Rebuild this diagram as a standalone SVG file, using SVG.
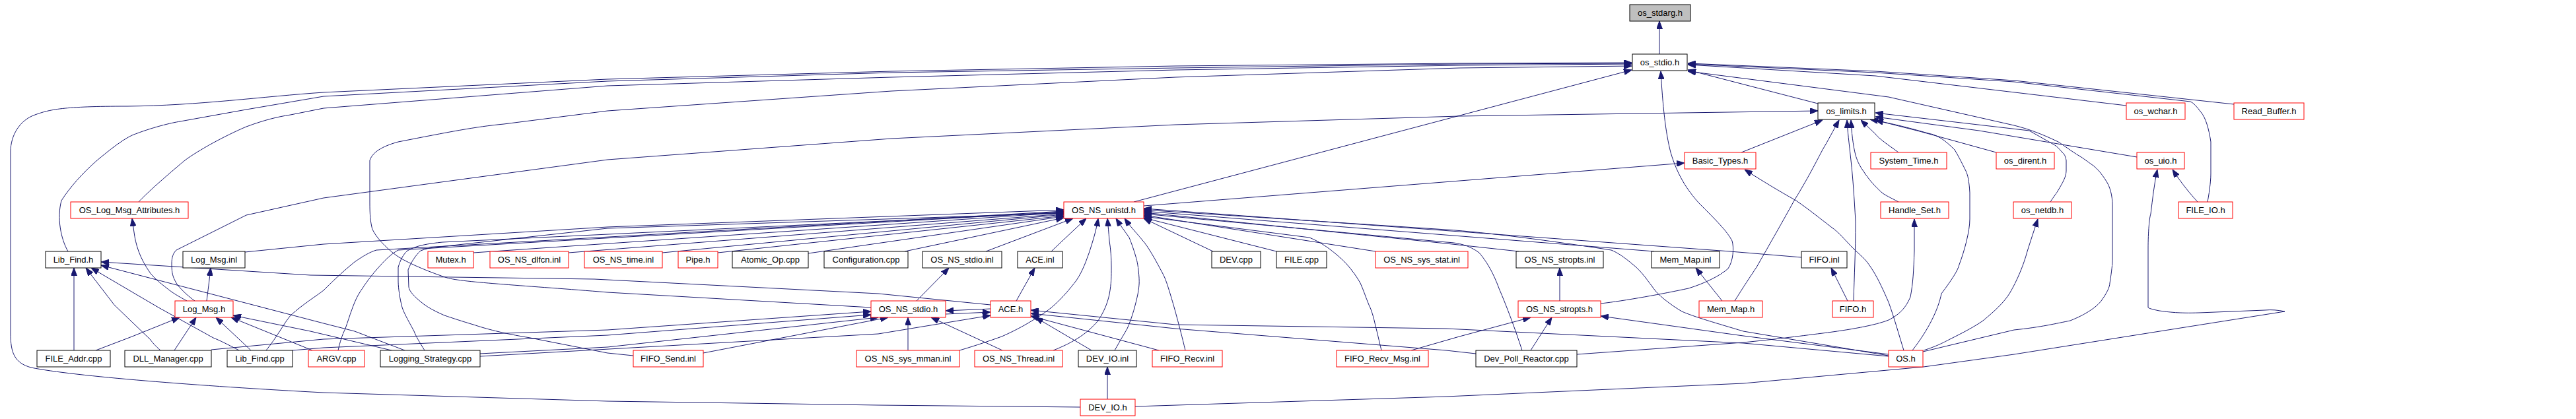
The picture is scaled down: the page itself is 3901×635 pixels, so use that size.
<svg xmlns="http://www.w3.org/2000/svg" width="3901" height="635" viewBox="0 0 3901 635">
<style>
.e{fill:none;stroke:#191970;stroke-width:1;marker-end:url(#a)}
.r{fill:#fff;stroke:#ff0000;stroke-width:1}
.b{fill:#fff;stroke:#000;stroke-width:1}
.g{fill:#bfbfbf;stroke:#000;stroke-width:1}
text{font-family:"Liberation Sans",Arial,sans-serif;font-size:13px;text-anchor:middle;fill:#000}
</style>
<defs>
<marker id="a" viewBox="0 0 12 9" refX="12" refY="4.5" markerWidth="12" markerHeight="9" markerUnits="userSpaceOnUse" orient="auto"><path d="M0,0 L12,4.5 L0,9 z" fill="#191970" stroke="#191970"/></marker>
</defs>
<rect width="3901" height="635" fill="#fff"/>
<g id="edges">
<path class="e" d="M2513,82 L2513,32"/>
<path class="e" d="M1636,617 L1330,614 L920,608 L490,595 C300,585 110,570 47,557 C22,550 16,535 16,505 L16,230 C16,205 30,182 53,174 C75,166 95,161 193,161 C300,160 400,146 490,140 L920,120 L1350,108 L1780,100 L2210,96 L2471,95"/>
<path class="e" d="M103,381 C92,362 86,330 93,304 C105,285 125,262 147,243 C165,228 185,212 200,205 C230,193 260,186 273,184 L373,166 L490,146 L920,123 L1350,110 L1780,103 L2210,97 L2471,96"/>
<path class="e" d="M210,306 C222,293 250,268 280,243 C300,228 340,206 373,192 C400,182 420,177 440,174 L490,164 L920,130 L1350,117 L1780,106 L2210,99 L2471,97"/>
<path class="e" d="M1319,466 L920,443 C800,433 700,428 677,421 C655,414 620,400 603,389 C585,377 565,355 563,344 C560,330 560,320 560,300 L560,243 C565,228 585,220 603,215 C680,200 720,192 763,188 L920,168 L1350,138 L1780,117 L2210,103 L2471,100"/>
<path class="e" d="M1717,306 L2471,106"/>
<path class="e" d="M295,456 C285,449 272,437 267,429 C262,420 260,415 260,400 C260,390 262,384 267,379 L373,326 L490,300 L920,242 L1350,210 L1780,189 L2210,176 L2753,168"/>
<path class="e" d="M1732,312 L2551,247"/>
<path class="e" d="M2424,460 C2460,456 2520,445 2557,437 C2580,430 2605,418 2617,407 C2625,395 2626,375 2623,365 C2615,350 2600,335 2573,308 C2555,288 2540,265 2530,231 C2522,200 2518,160 2515,108"/>
<path class="e" d="M2753,157 L2556,106"/>
<path class="e" d="M3220,160 L2840,115 L2556,98"/>
<path class="e" d="M3383,158 L3050,122 L2840,108 L2556,96"/>
<path class="e" d="M3343,306 C3347,285 3348,270 3348,263 L3348,215 C3345,195 3340,178 3333,170 C3327,162 3322,156 3317,154 L3050,124 L2840,110 L2556,97"/>
<path class="e" d="M2912,533 L3050,500 C3090,496 3115,490 3135,486 C3160,476 3175,465 3182,456 C3190,445 3195,435 3195,429 C3198,410 3199,400 3199,393 L3199,312 C3199,295 3195,283 3190,275 C3182,262 3175,255 3170,251 C3160,244 3155,240 3150,237 C3135,228 3125,220 3117,215 C3090,202 3070,195 3050,190 L2860,147 L2556,108"/>
<path class="e" d="M3105,306 C3110,298 3115,292 3117,288 C3123,278 3129,268 3129,259 L3129,243 C3128,237 3126,233 3123,231 C3118,225 3114,221 3110,219 L3073,198 L2840,171"/>
<path class="e" d="M3236,238 L2997,198 L2840,177"/>
<path class="e" d="M3023,231 L2907,199 L2840,182"/>
<path class="e" d="M2896,531 C2920,500 2935,470 2940,445 C2955,425 2965,410 2967,401 C2975,380 2983,350 2983,332 L2983,292 C2982,275 2980,265 2977,259 C2970,245 2965,235 2960,227 C2945,212 2935,205 2920,202 C2895,195 2870,188 2832,181"/>
<path class="e" d="M2637,231 L2760,182"/>
<path class="e" d="M2627,456 C2640,435 2650,420 2660,405 C2680,370 2700,335 2717,304 C2735,275 2748,250 2760,227 C2770,210 2775,200 2785,182"/>
<path class="e" d="M2807,456 C2808,420 2810,380 2810,336 C2808,300 2806,270 2803,243 C2800,215 2798,200 2797,182"/>
<path class="e" d="M2875,306 C2862,299 2855,296 2850,292 C2840,283 2830,272 2823,261 C2815,250 2812,242 2810,235 C2806,220 2804,200 2803,182"/>
<path class="e" d="M2875,231 C2860,220 2845,210 2840,203 L2818,182"/>
<path class="e" d="M3328,306 C3318,295 3305,280 3290,257"/>
<path class="e" d="M1719,616 L2190,601 L2640,581 L2913,556 L3050,537 L3460,472 C3450,470 3440,469 3430,470 L3330,474 C3300,475 3285,473 3270,471 C3260,469 3253,467 3253,466 L3253,378 C3253,350 3255,330 3257,324 C3260,300 3262,280 3267,257"/>
<path class="e" d="M2913,531 C2935,524 2945,518 2953,514 C2975,503 2990,495 3003,486 C3020,472 3035,458 3043,445 C3055,425 3065,400 3070,381 C3075,365 3080,350 3086,332"/>
<path class="e" d="M2883,531 C2875,505 2868,480 2860,458 C2850,435 2842,418 2833,405 C2825,392 2815,385 2807,377 C2795,365 2785,352 2773,344 C2755,330 2740,318 2720,304 C2695,290 2670,275 2642,257"/>
<path class="e" d="M2388,537 L2640,519 C2690,514 2720,510 2760,505 C2800,500 2840,493 2860,485 C2880,475 2888,462 2893,450 C2897,430 2898,410 2899,380 L2899,332"/>
<path class="e" d="M2608,456 L2568,406"/>
<path class="e" d="M2798,456 L2773,406"/>
<path class="e" d="M2362,456 L2362,406"/>
<path class="e" d="M2318,531 L2350,481"/>
<path class="e" d="M2137,531 L2210,510 L2318,481"/>
<path class="e" d="M2860,537 L2640,509 L2424,479"/>
<path class="e" d="M2860,539 L2640,502 C2600,490 2565,480 2547,472 C2530,462 2515,450 2507,441 C2495,425 2485,410 2473,401 C2460,390 2450,383 2440,379 C2350,365 2250,352 2190,348 L1732,318"/>
<path class="e" d="M2728,390 L2620,381 L1732,316"/>
<path class="e" d="M2505,381 L1732,320"/>
<path class="e" d="M2300,381 L2190,369 L1732,322"/>
<path class="e" d="M2305,531 C2295,500 2282,465 2270,437 C2260,410 2250,395 2240,383 C2225,372 2210,368 2190,367 L1732,324"/>
<path class="e" d="M2083,381 L1732,326"/>
<path class="e" d="M2092,531 C2088,515 2086,505 2083,494 C2080,480 2077,470 2073,462 C2068,450 2065,440 2060,429 C2055,420 2048,410 2040,401 C2032,392 2022,384 2013,377 C2003,370 1995,365 1983,360 L1732,328"/>
<path class="e" d="M1933,381 L1732,330"/>
<path class="e" d="M1837,381 L1732,331"/>
<path class="e" d="M1795,531 C1790,510 1786,495 1782,480 C1778,465 1775,455 1772,445 C1768,432 1765,422 1760,413 C1752,398 1745,385 1737,373 C1728,360 1715,348 1703,331"/>
<path class="e" d="M1688,531 C1697,515 1703,505 1707,498 C1715,480 1720,460 1723,446 C1726,430 1725,425 1725,421 C1724,405 1722,395 1720,389 C1716,375 1712,365 1710,360 C1703,350 1697,342 1690,331"/>
<path class="e" d="M1595,531 C1610,525 1620,520 1630,514 C1645,505 1655,495 1663,486 C1672,472 1677,460 1680,446 C1683,430 1683,418 1683,405 C1683,390 1682,378 1680,365 C1679,352 1678,342 1677,331"/>
<path class="e" d="M1453,531 C1480,523 1500,516 1517,510 C1535,502 1550,494 1563,486 C1575,479 1588,470 1597,462 C1610,450 1620,438 1630,425 C1640,410 1645,395 1650,381 C1655,365 1660,350 1663,331"/>
<path class="e" d="M1592,381 L1645,331"/>
<path class="e" d="M1493,381 L1625,331"/>
<path class="e" d="M1370,381 L1611,330"/>
<path class="e" d="M1224,384 L1611,328"/>
<path class="e" d="M1087,383 L1611,327"/>
<path class="e" d="M1003,383 L1611,325"/>
<path class="e" d="M861,383 L1611,324"/>
<path class="e" d="M717,383 L1611,322"/>
<path class="e" d="M371,382 L490,370 L920,344 L1611,318"/>
<path class="e" d="M403,531 C420,510 430,490 440,478 C460,460 480,448 490,440 C500,430 515,415 537,397 C550,388 560,382 570,379 L1611,320"/>
<path class="e" d="M512,531 C515,518 518,508 523,498 C530,478 535,460 543,446 C553,430 562,418 570,409 C582,395 592,385 603,379 L1611,321"/>
<path class="e" d="M643,531 C635,518 630,510 627,502 C618,485 610,472 608,462 C604,445 603,432 603,425 L603,405 C606,395 610,386 617,380 C630,372 650,369 670,367 L1611,322"/>
<path class="e" d="M959,539 L920,535 L803,512 C760,505 735,498 717,492 C700,487 685,482 673,478 C655,470 645,464 638,458 C628,450 620,442 619,435 L618,409 C622,398 630,386 637,380 C645,377 650,376 657,375 L920,346 L1611,323"/>
<path class="e" d="M112,531 L112,406"/>
<path class="e" d="M243,531 C235,524 230,518 227,514 L173,462 L130,406"/>
<path class="e" d="M362,531 C345,522 333,516 323,512 L240,466 L138,406"/>
<path class="e" d="M613,531 L537,502 L490,490 L153,402"/>
<path class="e" d="M1500,462 L1330,445 L900,423 L470,417 L153,397"/>
<path class="e" d="M313,456 C315,440 317,425 319,406"/>
<path class="e" d="M283,456 C270,449 260,443 253,437 C240,427 232,420 227,413 C220,403 214,392 210,381 C206,370 204,360 203,352 L200,331"/>
<path class="e" d="M145,531 L200,510 L272,481"/>
<path class="e" d="M264,531 L297,481"/>
<path class="e" d="M380,531 L327,481"/>
<path class="e" d="M473,531 L350,481"/>
<path class="e" d="M593,531 L470,502 L353,478"/>
<path class="e" d="M1388,456 L1437,406"/>
<path class="e" d="M1539,456 L1567,406"/>
<path class="e" d="M1375,531 L1375,481"/>
<path class="e" d="M1518,531 L1410,481"/>
<path class="e" d="M1500,468 L1432,471"/>
<path class="e" d="M1432,476 L1500,473"/>
<path class="e" d="M1653,531 L1568,481"/>
<path class="e" d="M1755,531 L1561,479"/>
<path class="e" d="M2860,540 L2640,520 L2190,498 L1780,492 L1561,470"/>
<path class="e" d="M2235,536 L2190,531 L1780,498 L1561,475"/>
<path class="e" d="M320,530 L490,514 L920,500 L1319,472"/>
<path class="e" d="M443,531 L490,527 L920,508 L1319,477"/>
<path class="e" d="M727,536 L920,526 L1330,481"/>
<path class="e" d="M1065,535 L1345,481"/>
<path class="e" d="M727,540 L1330,506 L1500,478"/>
<path class="e" d="M1677,605 L1677,556"/>
</g>
<g id="n_os_stdarg_h"><rect class="g" x="2468" y="7" width="92" height="25"/><text x="2514" y="24">os_stdarg.h</text></g>
<g id="n_os_stdio_h"><rect class="b" x="2472" y="82" width="83" height="25"/><text x="2513.5" y="99">os_stdio.h</text></g>
<g id="n_os_limits_h"><rect class="b" x="2753" y="156" width="86" height="25"/><text x="2796" y="173">os_limits.h</text></g>
<g id="n_os_wchar_h"><rect class="r" x="3220" y="156" width="89" height="25"/><text x="3264.5" y="173">os_wchar.h</text></g>
<g id="n_Read_Buffer_h"><rect class="r" x="3383" y="156" width="106" height="25"/><text x="3436" y="173">Read_Buffer.h</text></g>
<g id="n_Basic_Types_h"><rect class="r" x="2551" y="231" width="108" height="25"/><text x="2605" y="248">Basic_Types.h</text></g>
<g id="n_System_Time_h"><rect class="r" x="2833" y="231" width="115" height="25"/><text x="2890.5" y="248">System_Time.h</text></g>
<g id="n_os_dirent_h"><rect class="r" x="3023" y="231" width="88" height="25"/><text x="3067" y="248">os_dirent.h</text></g>
<g id="n_os_uio_h"><rect class="r" x="3236" y="231" width="72" height="25"/><text x="3272" y="248">os_uio.h</text></g>
<g id="n_OS_Log_Msg_Attributes_h"><rect class="r" x="107" y="306" width="178" height="25"/><text x="196" y="323">OS_Log_Msg_Attributes.h</text></g>
<g id="n_OS_NS_unistd_h"><rect class="r" x="1611" y="306" width="121" height="25"/><text x="1671.5" y="323">OS_NS_unistd.h</text></g>
<g id="n_Handle_Set_h"><rect class="r" x="2848" y="306" width="103" height="25"/><text x="2899.5" y="323">Handle_Set.h</text></g>
<g id="n_os_netdb_h"><rect class="r" x="3049" y="306" width="88" height="25"/><text x="3093" y="323">os_netdb.h</text></g>
<g id="n_FILE_IO_h"><rect class="r" x="3299" y="306" width="82" height="25"/><text x="3340" y="323">FILE_IO.h</text></g>
<g id="n_Lib_Find_h"><rect class="b" x="69" y="381" width="84" height="25"/><text x="111" y="398">Lib_Find.h</text></g>
<g id="n_Log_Msg_inl"><rect class="b" x="277" y="381" width="94" height="25"/><text x="324" y="398">Log_Msg.inl</text></g>
<g id="n_Mutex_h"><rect class="r" x="648" y="381" width="69" height="25"/><text x="682.5" y="398">Mutex.h</text></g>
<g id="n_OS_NS_dlfcn_inl"><rect class="r" x="742" y="381" width="119" height="25"/><text x="801.5" y="398">OS_NS_dlfcn.inl</text></g>
<g id="n_OS_NS_time_inl"><rect class="r" x="885" y="381" width="118" height="25"/><text x="944" y="398">OS_NS_time.inl</text></g>
<g id="n_Pipe_h"><rect class="r" x="1027" y="381" width="60" height="25"/><text x="1057" y="398">Pipe.h</text></g>
<g id="n_Atomic_Op_cpp"><rect class="b" x="1109" y="381" width="115" height="25"/><text x="1166.5" y="398">Atomic_Op.cpp</text></g>
<g id="n_Configuration_cpp"><rect class="b" x="1248" y="381" width="127" height="25"/><text x="1311.5" y="398">Configuration.cpp</text></g>
<g id="n_OS_NS_stdio_inl"><rect class="b" x="1397" y="381" width="120" height="25"/><text x="1457" y="398">OS_NS_stdio.inl</text></g>
<g id="n_ACE_inl"><rect class="b" x="1541" y="381" width="68" height="25"/><text x="1575" y="398">ACE.inl</text></g>
<g id="n_DEV_cpp"><rect class="b" x="1835" y="381" width="74" height="25"/><text x="1872" y="398">DEV.cpp</text></g>
<g id="n_FILE_cpp"><rect class="b" x="1933" y="381" width="76" height="25"/><text x="1971" y="398">FILE.cpp</text></g>
<g id="n_OS_NS_sys_stat_inl"><rect class="r" x="2083" y="381" width="140" height="25"/><text x="2153" y="398">OS_NS_sys_stat.inl</text></g>
<g id="n_OS_NS_stropts_inl"><rect class="b" x="2296" y="381" width="132" height="25"/><text x="2362" y="398">OS_NS_stropts.inl</text></g>
<g id="n_Mem_Map_inl"><rect class="b" x="2501" y="381" width="103" height="25"/><text x="2552.5" y="398">Mem_Map.inl</text></g>
<g id="n_FIFO_inl"><rect class="b" x="2728" y="381" width="69" height="25"/><text x="2762.5" y="398">FIFO.inl</text></g>
<g id="n_Log_Msg_h"><rect class="r" x="265" y="456" width="88" height="25"/><text x="309" y="473">Log_Msg.h</text></g>
<g id="n_OS_NS_stdio_h"><rect class="r" x="1319" y="456" width="113" height="25"/><text x="1375.5" y="473">OS_NS_stdio.h</text></g>
<g id="n_ACE_h"><rect class="r" x="1500" y="456" width="61" height="25"/><text x="1530.5" y="473">ACE.h</text></g>
<g id="n_OS_NS_stropts_h"><rect class="r" x="2299" y="456" width="125" height="25"/><text x="2361.5" y="473">OS_NS_stropts.h</text></g>
<g id="n_Mem_Map_h"><rect class="r" x="2573" y="456" width="96" height="25"/><text x="2621" y="473">Mem_Map.h</text></g>
<g id="n_FIFO_h"><rect class="r" x="2775" y="456" width="62" height="25"/><text x="2806" y="473">FIFO.h</text></g>
<g id="n_FILE_Addr_cpp"><rect class="b" x="56" y="531" width="111" height="25"/><text x="111.5" y="548">FILE_Addr.cpp</text></g>
<g id="n_DLL_Manager_cpp"><rect class="b" x="189" y="531" width="131" height="25"/><text x="254.5" y="548">DLL_Manager.cpp</text></g>
<g id="n_Lib_Find_cpp"><rect class="b" x="344" y="531" width="99" height="25"/><text x="393.5" y="548">Lib_Find.cpp</text></g>
<g id="n_ARGV_cpp"><rect class="r" x="467" y="531" width="85" height="25"/><text x="509.5" y="548">ARGV.cpp</text></g>
<g id="n_Logging_Strategy_cpp"><rect class="b" x="576" y="531" width="151" height="25"/><text x="651.5" y="548">Logging_Strategy.cpp</text></g>
<g id="n_FIFO_Send_inl"><rect class="r" x="959" y="531" width="106" height="25"/><text x="1012" y="548">FIFO_Send.inl</text></g>
<g id="n_OS_NS_sys_mman_inl"><rect class="r" x="1297" y="531" width="156" height="25"/><text x="1375" y="548">OS_NS_sys_mman.inl</text></g>
<g id="n_OS_NS_Thread_inl"><rect class="r" x="1476" y="531" width="133" height="25"/><text x="1542.5" y="548">OS_NS_Thread.inl</text></g>
<g id="n_DEV_IO_inl"><rect class="b" x="1633" y="531" width="88" height="25"/><text x="1677" y="548">DEV_IO.inl</text></g>
<g id="n_FIFO_Recv_inl"><rect class="r" x="1745" y="531" width="106" height="25"/><text x="1798" y="548">FIFO_Recv.inl</text></g>
<g id="n_FIFO_Recv_Msg_inl"><rect class="r" x="2024" y="531" width="139" height="25"/><text x="2093.5" y="548">FIFO_Recv_Msg.inl</text></g>
<g id="n_Dev_Poll_Reactor_cpp"><rect class="b" x="2235" y="531" width="153" height="25"/><text x="2311.5" y="548">Dev_Poll_Reactor.cpp</text></g>
<g id="n_OS_h"><rect class="r" x="2860" y="531" width="52" height="25"/><text x="2886" y="548">OS.h</text></g>
<g id="n_DEV_IO_h"><rect class="r" x="1636" y="605" width="83" height="25"/><text x="1677.5" y="622">DEV_IO.h</text></g>
</svg>
